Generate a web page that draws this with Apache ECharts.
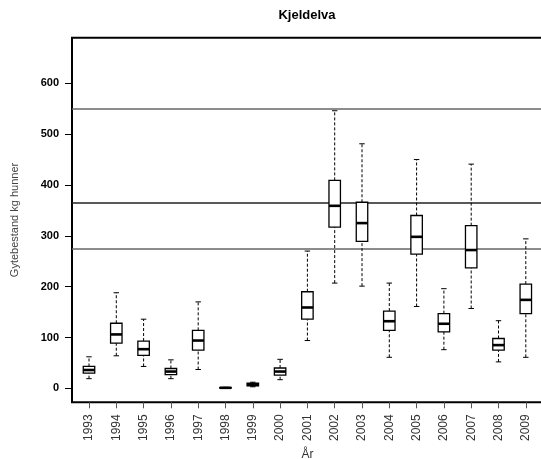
<!DOCTYPE html>
<html>
<head>
<meta charset="utf-8">
<script src="https://cdn.jsdelivr.net/npm/echarts@6/dist/echarts.min.js"></script>
<style>
  html, body { margin: 0; padding: 0; background: #fff; }
  #chart { width: 541px; height: 459px; }
</style>
</head>
<body>
<div id="chart"></div>
<script>
var years = ['1993', '1994', '1995', '1996', '1997', '1998', '1999', '2000', '2001',
    '2002', '2003', '2004', '2005', '2006', '2007', '2008', '2009'];
var mins    = [19, 64, 43, 19, 37, 0,   3,  17, 94,  207, 201, 61,  161, 76,  157, 52, 61];
var lowerQ  = [30, 89, 65, 27, 75, 0.5, 5,  26, 136, 317, 289, 114, 264, 111, 237, 75, 147];
var medians = [36, 106, 77, 33, 94, 1,  7,  33, 159, 359, 325, 132, 298, 127, 272, 85, 174];
var upperQ  = [43, 128, 93, 39, 114, 1.5, 10, 40, 190, 409, 366, 152, 340, 147, 320, 98, 205];
var maxs    = [62, 188, 136, 56, 170, 2, 12, 57, 270, 546, 481, 207, 450, 196, 441, 133, 294];
var refLines = [549, 365, 275];
var yTicks = [0, 100, 200, 300, 400, 500, 600];

var yMin = -27.5, yMax = 689.7;

var boxData = [];
for (var i = 0; i < years.length; i++) {
    boxData.push([i, mins[i], lowerQ[i], medians[i], upperQ[i], maxs[i]]);
}

function renderBox(params, api) {
    var x = api.value(0);
    var lo = api.coord([x, api.value(1)]);
    var q1 = api.coord([x, api.value(2)]);
    var med = api.coord([x, api.value(3)]);
    var q3 = api.coord([x, api.value(4)]);
    var hi = api.coord([x, api.value(5)]);
    var band = api.size([1, 0])[0];
    var half = band * 0.21;
    var cap = band * 0.1;
    var cx = lo[0];
    var dash = {stroke: '#000', lineWidth: 1, lineDash: [3, 2]};
    var solid = {stroke: '#000', lineWidth: 1};
    return {
        type: 'group',
        children: [
            {type: 'line', shape: {x1: cx, y1: lo[1], x2: cx, y2: q1[1]}, style: dash},
            {type: 'line', shape: {x1: cx, y1: q3[1], x2: cx, y2: hi[1]}, style: dash},
            {type: 'line', shape: {x1: cx - cap, y1: lo[1], x2: cx + cap, y2: lo[1]}, style: solid},
            {type: 'line', shape: {x1: cx - cap, y1: hi[1], x2: cx + cap, y2: hi[1]}, style: solid},
            {type: 'rect', shape: {x: cx - half, y: q3[1], width: half * 2, height: q1[1] - q3[1]},
                style: {fill: '#fff', stroke: '#000', lineWidth: 1.3}},
            {type: 'line', shape: {x1: cx - half, y1: med[1], x2: cx + half, y2: med[1]},
                style: {stroke: '#000', lineWidth: 2.6}}
        ]
    };
}

var refMarks = [];
for (var k = 0; k < refLines.length; k++) {
    refMarks.push({
        yAxis: refLines[k],
        lineStyle: {color: k === 1 ? '#222' : '#666', width: 1.5, type: 'solid'}
    });
}

var chart = echarts.init(document.getElementById('chart'), null, {renderer: 'canvas'});
chart.setOption({
    animation: false,
    backgroundColor: '#fff',
    title: {
        text: 'Kjeldelva',
        left: 302,
        top: 4,
        textAlign: 'center',
        textStyle: {fontFamily: 'Liberation Sans', fontSize: 13, fontWeight: 'bold', color: '#000'}
    },
    grid: [
        {left: 75.35, width: 464.1, top: 37.7, bottom: 56.7, outerBoundsMode: 'none'},
        {left: 72, width: 480, top: 37.7, bottom: 56.7, show: true, outerBoundsMode: 'none',
            borderColor: '#000', borderWidth: 2, backgroundColor: 'transparent'}
    ],
    xAxis: [
        {
            type: 'category',
            gridIndex: 0,
            data: years,
            boundaryGap: true,
            name: 'År',
            nameLocation: 'middle',
            nameGap: 44,
            nameTextStyle: {fontFamily: 'Liberation Sans', fontSize: 12, color: '#333'},
            axisLine: {show: false, onZero: false},
            axisTick: {show: true, alignWithLabel: true, length: 6, lineStyle: {color: '#555', width: 1}},
            axisLabel: {rotate: 90, margin: 12, fontFamily: 'Liberation Sans', fontSize: 12, color: '#333'},
            splitLine: {show: false}
        },
        {type: 'value', gridIndex: 1, min: 0, max: 1, show: false}
    ],
    yAxis: [
        {
            type: 'value',
            gridIndex: 0,
            min: yMin,
            max: yMax,
            offset: 3.35,
            name: 'Gytebestand kg hunner',
            nameLocation: 'middle',
            nameGap: 52,
            nameTextStyle: {fontFamily: 'Liberation Sans', fontSize: 11, color: '#444'},
            axisLine: {show: false},
            axisTick: {show: true, customValues: yTicks, length: 7, lineStyle: {color: '#000', width: 1}},
            axisLabel: {customValues: yTicks, margin: 13, fontFamily: 'Liberation Sans',
                fontSize: 11, fontWeight: 'bold', color: '#000'},
            splitLine: {show: false}
        },
        {type: 'value', gridIndex: 1, min: yMin, max: yMax, show: false}
    ],
    series: [
        {
            type: 'line',
            xAxisIndex: 1,
            yAxisIndex: 1,
            data: [],
            silent: true,
            markLine: {
                silent: true,
                symbol: 'none',
                label: {show: false},
                data: refMarks
            }
        },
        {
            type: 'custom',
            xAxisIndex: 0,
            yAxisIndex: 0,
            data: boxData,
            renderItem: renderBox,
            z: 5,
            silent: true
        }
    ]
});
</script>
</body>
</html>
